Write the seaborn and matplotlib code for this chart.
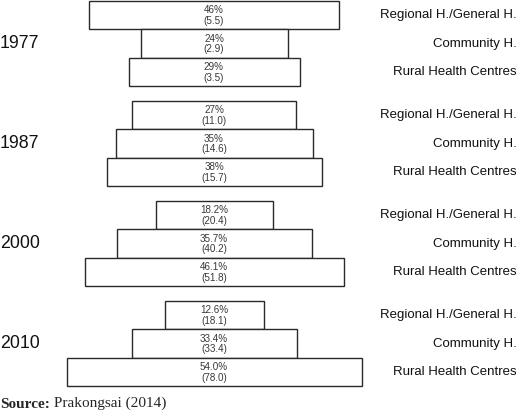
import numpy as np
import pandas as pd
import matplotlib
matplotlib.use('Agg')
import matplotlib.pyplot as plt
import seaborn as sns

# DATA
years = ['1977', '1987', '2000', '2010']
levels = ['Regional H./General H.', 'Community H.', 'Rural Health Centres']
pct_labels = [
    ['46%', '24%', '29%'],
    ['27%', '35%', '38%'],
    ['18.2%', '35.7%', '46.1%'],
    ['12.6%', '33.4%', '54.0%'],
]
counts = [
    [5.5, 2.9, 3.5],
    [11.0, 14.6, 15.7],
    [20.4, 40.2, 51.8],
    [18.1, 33.4, 78.0],
]
# drawn bar lengths (schematic, as they appear in the figure)
bar_len = [
    [250, 147, 171],
    [164, 197, 215],
    [117, 195, 259],
    [99, 165, 295],
]

# LAYOUT
W, H = 520, 413
CENTER_X = 214
GROUP_STEP = 100
TOP = 1
ROW_H = 28.4

rows = []
for g, yr in enumerate(years):
    for r, lev in enumerate(levels):
        ypos = TOP + g * GROUP_STEP + r * ROW_H + ROW_H / 2
        rows.append({'year': yr, 'level': lev, 'length': bar_len[g][r],
                     'pct': pct_labels[g][r], 'count': counts[g][r], 'ypos': ypos})
df = pd.DataFrame(rows)

sns.set_style('white')
plt.rcParams['font.family'] = ['Liberation Sans', 'DejaVu Sans']

fig = plt.figure(figsize=(W / 100, H / 100), dpi=100)
ax = fig.add_axes([0, 0, 1, 1])

sns.barplot(data=df, x='length', y='ypos', orient='y', native_scale=True,
            width=1.0, color='white', saturation=1, edgecolor='#2a2a2a',
            linewidth=1.0, errorbar=None, ax=ax)

# centre each bar horizontally
for p in ax.patches:
    p.set_x(CENTER_X - p.get_width() / 2)
    p.set_facecolor('white')

ax.set_xlim(0, W)
ax.set_ylim(H, 0)
ax.axis('off')

for _, row in df.iterrows():
    ax.text(CENTER_X, row['ypos'] + 0.5, f"{row['pct']}\n({row['count']:.1f})",
            ha='center', va='center', fontsize=7.1, color='#383838', linespacing=1.1)
    ax.text(517, row['ypos'], row['level'], ha='right', va='center',
            fontsize=9.5, color='#111111')

for g, yr in enumerate(years):
    yc = df[(df['year'] == yr) & (df['level'] == levels[1])]['ypos'].iloc[0]
    ax.text(0, yc, yr, ha='left', va='center', fontsize=12.8, color='#111111')

t1 = ax.text(0, 404, 'Source:', ha='left', va='center', fontsize=11,
             fontweight='bold', family=['Liberation Serif', 'DejaVu Serif'])
ax.annotate(' Prakongsai (2014)', xy=(1, 0), xycoords=t1, ha='left', va='bottom',
            fontsize=11, family=['Liberation Serif', 'DejaVu Serif'])

fig.savefig('out.png', dpi=100)
